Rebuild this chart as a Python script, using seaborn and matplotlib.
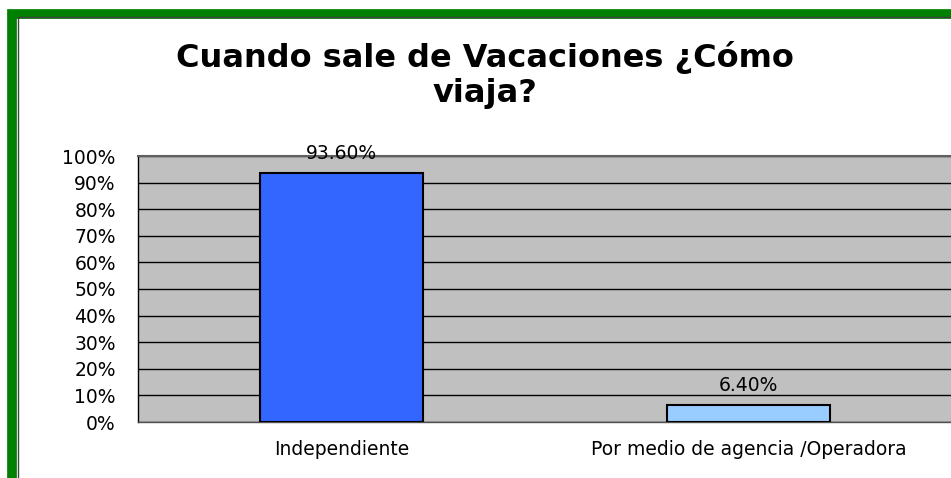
import matplotlib
matplotlib.use("Agg")
import matplotlib.pyplot as plt
import matplotlib.ticker as ticker
from matplotlib.patches import Rectangle
import seaborn as sns
import pandas as pd

# chart data
categories = ["Independiente", "Por medio de agencia /Operadora"]
shares = [0.936, 0.064]
share_labels = ["93.60%", "6.40%"]
bar_colors = ["#3366FF", "#99CCFF"]
title = "Cuando sale de Vacaciones ¿Cómo\nviaja?"

sns.set_style("white")
# wide sans font, closer to the stretched look of the original
plt.rcParams["font.family"] = ["DejaVu Sans"]
plt.rcParams["text.color"] = "black"
plt.rcParams["xtick.color"] = "black"
plt.rcParams["ytick.color"] = "black"

df = pd.DataFrame({"tipo": categories, "share": shares})

fig = plt.figure(figsize=(9.51, 4.78), dpi=100)
fig.patch.set_facecolor("white")

# green chart border (cut off at right and bottom like the original)
fig.patches.append(Rectangle((12 / 951, -0.1), 1.2, (478 - 14) / 478 + 0.1,
                             transform=fig.transFigure, fill=False,
                             edgecolor="#008000", linewidth=7, zorder=0))
fig.patches.append(Rectangle((17.5 / 951, -0.1), 1.2, (478 - 17.5) / 478 + 0.1,
                             transform=fig.transFigure, fill=False,
                             edgecolor="#404040", linewidth=1, zorder=0))

ax = fig.add_axes([138 / 951, 56 / 478, 814 / 951, 266 / 478])
ax.set_facecolor("#C0C0C0")

sns.barplot(data=df, x="tipo", y="share", hue="tipo", palette=bar_colors,
            saturation=1, width=0.4, edgecolor="black", linewidth=1.5,
            legend=False, ax=ax, zorder=3)

ax.set_xlim(-0.5, 1.5)
ax.set_ylim(0, 1)
ax.yaxis.set_major_locator(ticker.MultipleLocator(0.1))
ax.yaxis.set_major_formatter(ticker.PercentFormatter(1.0, decimals=0))
ax.grid(axis="y", color="black", linewidth=1, zorder=1)
ax.set_axisbelow(True)

# category boundary ticks
ax.set_xticks([-0.5, 0.5, 1.5], minor=True)
ax.tick_params(axis="x", which="major", length=0, pad=13, labelsize=13.5)
ax.tick_params(axis="x", which="minor", length=6, width=1, color="black")
ax.tick_params(axis="y", length=6, width=1, color="black", labelsize=13.5, pad=10)
ax.set_xlabel("")
ax.set_ylabel("")

for side in ["left", "bottom"]:
    ax.spines[side].set_color("black")
    ax.spines[side].set_linewidth(1)
ax.spines["bottom"].set_color("#505050")
ax.spines["top"].set_color("#606060")
ax.spines["top"].set_linewidth(1.5)
ax.spines["right"].set_visible(False)

for i, (v, lab) in enumerate(zip(shares, share_labels)):
    ax.annotate(lab, (i, v), xytext=(0, 7), textcoords="offset points",
                ha="center", va="bottom", fontsize=13.5)

fig.text(485 / 951, 1 - 75 / 478, title, ha="center", va="center",
         fontsize=23, fontweight="bold", linespacing=1.2)

fig.savefig("out.png", dpi=100)
